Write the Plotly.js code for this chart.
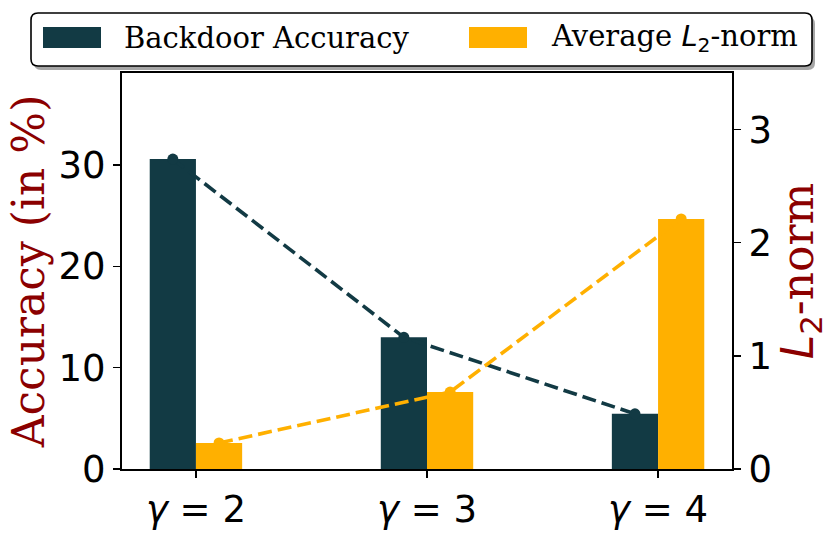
<!DOCTYPE html>
<html>
<head>
<meta charset="utf-8">
<script src="https://cdn.plot.ly/plotly-3.0.1.min.js"></script>
<style>
  body { margin: 0; background: #fff; }
  #plot { width: 831px; height: 543px; }
</style>
</head>
<body>
<div id="plot"></div>
<script>
// values
const gammaLabels = ["<i>γ</i> = 2", "<i>γ</i> = 3", "<i>γ</i> = 4"];
const backdoorAccuracy = [30.6, 13.0, 5.45];
const avgL2Norm = [0.23, 0.68, 2.21];
const legendNames = ["Backdoor Accuracy", "Average <span style='font-family:DejaVu Sans'><i>L</i><sub>2</sub></span>-norm"];

const teal = "#123a44";
const amber = "#ffb000";
const darkred = "#8b0000";

// plot area in pixels, used to place the hand drawn legend box
const L = 122, R = 732, T = 73, B = 469;
const px = x => (x - L) / (R - L);
const py = y => (B - y) / (B - T);

const idx = gammaLabels.map((_, i) => i);
const barW = 0.2;

const data = [
    {
        type: "bar", x: idx, y: backdoorAccuracy, width: barW, offset: -barW,
        marker: { color: teal }, yaxis: "y", showlegend: false, hoverinfo: "y"
    },
    {
        type: "scatter", mode: "lines+markers",
        x: idx.map(i => i - barW / 2), y: backdoorAccuracy, yaxis: "y",
        line: { color: teal, width: 3.6, dash: "14px,6px" },
        marker: { color: teal, size: 11 }, showlegend: false
    },
    {
        type: "bar", x: idx, y: avgL2Norm, width: barW, offset: 0,
        marker: { color: amber }, yaxis: "y2", showlegend: false, hoverinfo: "y"
    },
    {
        type: "scatter", mode: "lines+markers",
        x: idx.map(i => i + barW / 2), y: avgL2Norm, yaxis: "y2",
        line: { color: amber, width: 3.6, dash: "14px,6px" },
        marker: { color: amber, size: 11 }, showlegend: false
    }
];

function roundRect(x0, y0, x1, y1, r) {
    const rx = r / (R - L), ry = r / (B - T);
    const a = px(x0), b = px(x1), top = py(y0), bot = py(y1);
    return `M ${a + rx} ${top} L ${b - rx} ${top} Q ${b} ${top} ${b} ${top - ry} ` +
        `L ${b} ${bot + ry} Q ${b} ${bot} ${b - rx} ${bot} L ${a + rx} ${bot} ` +
        `Q ${a} ${bot} ${a} ${bot + ry} L ${a} ${top - ry} Q ${a} ${top} ${a + rx} ${top} Z`;
}

const shapes = [
    // legend shadow + frame
    { type: "path", xref: "paper", yref: "paper", path: roundRect(34, 17, 815, 70, 7),
      fillcolor: "rgba(0,0,0,0.35)", line: { width: 0 } },
    { type: "path", xref: "paper", yref: "paper", path: roundRect(31, 13, 812, 66, 7),
      fillcolor: "#ffffff", line: { color: "#000", width: 1.6 } },
    // legend swatches
    { type: "rect", xref: "paper", yref: "paper", x0: px(43), x1: px(101), y0: py(48), y1: py(27),
      fillcolor: teal, line: { width: 0 } },
    { type: "rect", xref: "paper", yref: "paper", x0: px(469), x1: px(527), y0: py(48), y1: py(27),
      fillcolor: amber, line: { width: 0 } }
];

const legendFont = { family: "DejaVu Serif", size: 29, color: "#000" };
const annotations = [
    { xref: "paper", yref: "paper", x: px(122), y: py(38), xanchor: "left", yanchor: "middle",
      text: legendNames[0], showarrow: false, font: legendFont },
    { xref: "paper", yref: "paper", x: px(549), y: py(38), xanchor: "left", yanchor: "middle",
      text: legendNames[1], showarrow: false, font: legendFont }
];

const tickFont = { family: "DejaVu Sans", size: 37, color: "#000" };

const layout = {
    width: 831, height: 543,
    margin: { l: L, r: 831 - R, t: T, b: 543 - B },
    paper_bgcolor: "#fff", plot_bgcolor: "#fff",
    showlegend: false,
    xaxis: {
        range: [-0.32, 2.32], tickvals: idx, ticktext: gammaLabels,
        showline: true, mirror: true, linecolor: "#000", linewidth: 2,
        ticks: "outside", ticklen: 7, tickwidth: 1.5, tickcolor: "#000",
        showgrid: false, zeroline: false, tickfont: tickFont
    },
    yaxis: {
        range: [0, 39.1], dtick: 10,
        showline: true, linecolor: "#000", linewidth: 2,
        ticks: "outside", ticklen: 7, tickwidth: 1.5, tickcolor: "#000",
        showgrid: false, zeroline: false, tickfont: tickFont,
        title: { text: "Accuracy (in %)", font: { family: "DejaVu Serif", size: 44, color: darkred }, standoff: 0 }
    },
    yaxis2: {
        range: [0, 3.5], dtick: 1, overlaying: "y", side: "right",
        showline: true, linecolor: "#000", linewidth: 2,
        ticks: "outside", ticklen: 7, tickwidth: 1.5, tickcolor: "#000",
        showgrid: false, zeroline: false, tickfont: tickFont,
        title: {
            text: "<span style='font-family:DejaVu Sans'><i>L</i><sub>2</sub></span>-norm",
            font: { family: "DejaVu Serif", size: 44, color: darkred }, standoff: 1
        }
    },
    shapes: shapes,
    annotations: annotations
};

Plotly.newPlot("plot", data, layout, { staticPlot: true });
</script>
</body>
</html>
